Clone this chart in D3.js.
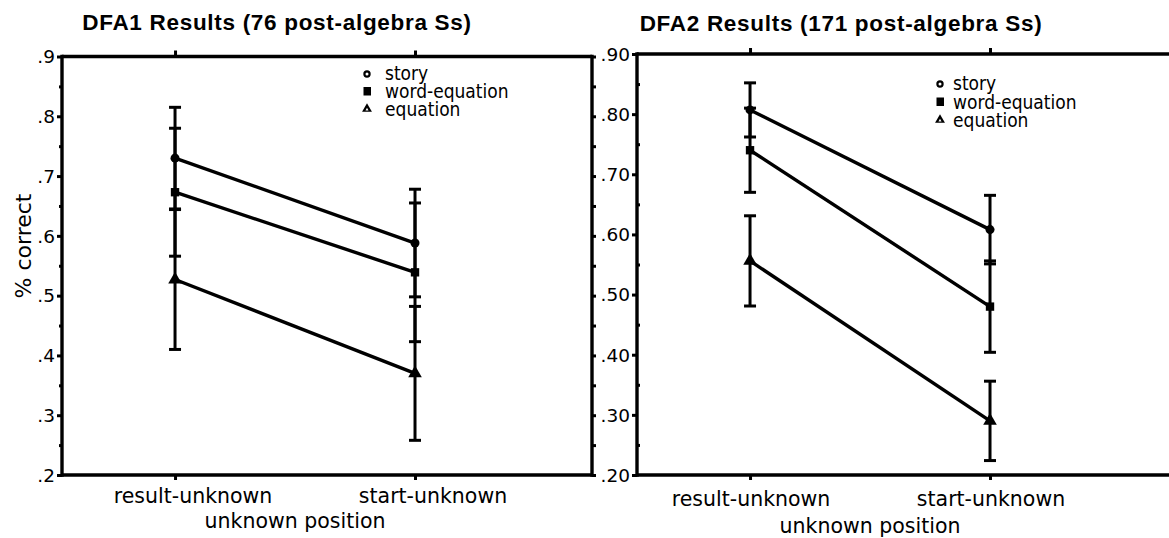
<!DOCTYPE html>
<html>
<head>
<meta charset="utf-8">
<script src="https://cdn.jsdelivr.net/npm/d3@7"></script>
<style>
  body { margin: 0; background: #fff; overflow: hidden; }
  svg { display: block; }
  text { fill: #000; }
</style>
</head>
<body>
<div id="chart"></div>
<script>
'use strict';

/***************************** chart data ********************************/

var categories = ["result-unknown", "start-unknown"];
var seriesNames = ["story", "word-equation", "equation"];

// DFA1 (76 post-algebra Ss)
var dfa1Story = [0.730, 0.588];
var dfa1StoryErr = [0.085, 0.090];
var dfa1WordEq = [0.673, 0.539];
var dfa1WordEqErr = [0.107, 0.116];
var dfa1Equation = [0.527, 0.370];
var dfa1EquationErr = [0.117, 0.112];

// DFA2 (171 post-algebra Ss)
var dfa2Story = [0.807, 0.608];
var dfa2StoryErr = [0.045, 0.057];
var dfa2WordEq = [0.740, 0.480];
var dfa2WordEqErr = [0.070, 0.076];
var dfa2Equation = [0.556, 0.290];
var dfa2EquationErr = [0.075, 0.066];

var majorTicks = [0.2, 0.3, 0.4, 0.5, 0.6, 0.7, 0.8, 0.9];
var minorTicks = [0.25, 0.35, 0.45, 0.55, 0.65, 0.75, 0.85];
var leftTickLabels = [".2", ".3", ".4", ".5", ".6", ".7", ".8", ".9"];
var rightTickLabels = [".20", ".30", ".40", ".50", ".60", ".70", ".80", ".90"];

/***************************** svg setup *********************************/

var width = 1169;
var height = 538;
var font = "'DejaVu Sans', Verdana, sans-serif";
var condFont = "'DejaVu Sans Condensed', 'DejaVu Sans', sans-serif";

var svg = d3.select("#chart").append("svg")
	.attr("width", width)
	.attr("height", height);

var markerShapes = [d3.symbolCircle, d3.symbolSquare, d3.symbolTriangle];
var markerSizes = [64, 70, 80];

function drawPanel(opts) {

	var x = d3.scaleLinear().domain([-0.471, 1.7375]).range([opts.left, opts.right]);
	var y = d3.scaleLinear().domain([0.2, 0.9]).range([opts.bottom, opts.top]);

	var g = svg.append("g").attr("class", "panel");

	/* frame */
	var frame = g.append("g").attr("stroke", "#000").attr("stroke-width", 3.4).attr("fill", "none");
	frame.append("line").attr("x1", opts.left).attr("x2", opts.frameRight).attr("y1", opts.top).attr("y2", opts.top);
	frame.append("line").attr("x1", opts.left).attr("x2", opts.frameRight).attr("y1", opts.bottom).attr("y2", opts.bottom);
	frame.append("line").attr("x1", opts.left).attr("x2", opts.left).attr("y1", opts.top - 1.7).attr("y2", opts.bottom + 1.7);
	if (opts.drawRight) {
		frame.append("line").attr("x1", opts.right).attr("x2", opts.right).attr("y1", opts.top - 1.7).attr("y2", opts.bottom + 1.7);
	}

	/* y axis : major ticks outside, minor ticks */
	var yMajor = g.append("g")
		.attr("transform", "translate(" + opts.left + ",0)")
		.call(d3.axisLeft(y).tickValues(majorTicks).tickSize(5).tickPadding(2)
			.tickFormat(function(d, i) { return opts.tickLabels[i]; }));
	yMajor.select(".domain").remove();
	yMajor.selectAll("line").attr("stroke-width", 3);
	yMajor.selectAll("text").attr("font-family", font).attr("font-size", 18.5).attr("dy", "0.34em");

	var yMinor = g.append("g")
		.attr("transform", "translate(" + opts.left + ",0)")
		.call((opts.minorInside ? d3.axisRight(y) : d3.axisLeft(y)).tickValues(minorTicks).tickSize(3).tickFormat(""));
	yMinor.select(".domain").remove();
	yMinor.selectAll("line").attr("stroke-width", 3);

	if (opts.drawRight) {
		var yRight = g.append("g")
			.attr("transform", "translate(" + opts.right + ",0)")
			.call(d3.axisRight(y).tickValues(majorTicks.concat(minorTicks)).tickSize(4).tickFormat(""));
		yRight.select(".domain").remove();
		yRight.selectAll("line").attr("stroke-width", 3);
	}

	/* x ticks top and bottom */
	var xIdx = d3.range(categories.length);
	var xBottom = g.append("g")
		.attr("transform", "translate(0," + opts.bottom + ")")
		.call(d3.axisBottom(x).tickValues(xIdx).tickSize(5).tickFormat(""));
	xBottom.select(".domain").remove();
	xBottom.selectAll("line").attr("stroke-width", 3);

	var xTop = g.append("g")
		.attr("transform", "translate(0," + opts.top + ")")
		.call(d3.axisTop(x).tickValues(xIdx).tickSize(6).tickFormat(""));
	xTop.select(".domain").remove();
	xTop.selectAll("line").attr("stroke-width", 3);

	g.selectAll(".catLabel")
		.data(categories)
		.enter().append("text")
		.attr("class", "catLabel")
		.attr("x", function(d, i) { return x(i) + opts.labelShift; })
		.attr("y", opts.catBaseline)
		.attr("text-anchor", "middle")
		.attr("font-family", font)
		.attr("font-size", 20.5)
		.text(function(d) { return d; });

	g.append("text")
		.attr("x", x(0.5))
		.attr("y", opts.axisTitleBaseline)
		.attr("text-anchor", "middle")
		.attr("font-family", font)
		.attr("font-size", 20.5)
		.text("unknown position");

	/* title */
	g.append("text")
		.attr("x", opts.titleX)
		.attr("y", opts.titleY)
		.attr("text-anchor", "middle")
		.attr("font-family", "'Liberation Sans', Arial, sans-serif")
		.attr("font-weight", "bold")
		.attr("font-size", 22.5)
		.attr("letter-spacing", 0.7)
		.text(opts.title);

	/* series : error bars, lines, markers */
	var line = d3.line()
		.x(function(d, i) { return x(i); })
		.y(function(d) { return y(d); });

	opts.series.forEach(function(s, k) {
		var bars = g.append("g").attr("stroke", "#000").attr("stroke-width", 3);
		s.values.forEach(function(v, i) {
			var lo = v - s.err[i];
			var hi = v + s.err[i];
			bars.append("line").attr("x1", x(i)).attr("x2", x(i)).attr("y1", y(lo)).attr("y2", y(hi));
			bars.append("line").attr("x1", x(i) - 6).attr("x2", x(i) + 6).attr("y1", y(lo)).attr("y2", y(lo));
			bars.append("line").attr("x1", x(i) - 6).attr("x2", x(i) + 6).attr("y1", y(hi)).attr("y2", y(hi));
		});
	});

	opts.series.forEach(function(s, k) {
		g.append("path")
			.datum(s.values)
			.attr("d", line)
			.attr("fill", "none")
			.attr("stroke", "#000")
			.attr("stroke-width", 3.4);

		g.selectAll(".mk" + k)
			.data(s.values)
			.enter().append("path")
			.attr("class", "mk" + k)
			.attr("transform", function(d, i) { return "translate(" + x(i) + "," + y(d) + ")"; })
			.attr("d", d3.symbol().type(markerShapes[k]).size(markerSizes[k]))
			.attr("fill", "#000");
	});

	/* legend */
	var legend = g.append("g").attr("class", "legend");
	seriesNames.forEach(function(name, k) {
		var by = opts.legendY + k * opts.legendStep;
		if (k === 0) {
			legend.append("circle")
				.attr("cx", opts.legendMarkX).attr("cy", by - 6).attr("r", 2.6)
				.attr("fill", "#fff").attr("stroke", "#000").attr("stroke-width", 2.2);
		}
		else if (k === 1) {
			legend.append("rect")
				.attr("x", opts.legendMarkX - 3.5).attr("y", by - 11).attr("width", 7.5).attr("height", 8.5)
				.attr("fill", "#000");
		}
		else {
			legend.append("path")
				.attr("transform", "translate(" + opts.legendMarkX + "," + (by - 7) + ")")
				.attr("d", d3.symbol().type(d3.symbolTriangle).size(42))
				.attr("fill", "#000");
			legend.append("path")
				.attr("transform", "translate(" + opts.legendMarkX + "," + (by - 6.5) + ")")
				.attr("d", d3.symbol().type(d3.symbolTriangle).size(4))
				.attr("fill", "#fff");
		}
		legend.append("text")
			.attr("x", opts.legendTextX)
			.attr("y", by)
			.attr("font-family", condFont)
			.attr("font-size", 19)
			.text(name);
	});
}

/***************************** panels ************************************/

drawPanel({
	left: 62, right: 592, frameRight: 592, drawRight: true, minorInside: false,
	top: 56.5, bottom: 475,
	tickLabels: leftTickLabels,
	labelShift: 18, catBaseline: 503, axisTitleBaseline: 528,
	title: "DFA1 Results (76 post-algebra Ss)", titleX: 277, titleY: 30,
	legendMarkX: 367, legendTextX: 385, legendY: 80, legendStep: 18,
	series: [
		{ values: dfa1Story, err: dfa1StoryErr },
		{ values: dfa1WordEq, err: dfa1WordEqErr },
		{ values: dfa1Equation, err: dfa1EquationErr }
	]
});

drawPanel({
	left: 637, right: 1167, frameRight: 1175, drawRight: false, minorInside: true,
	top: 54, bottom: 475,
	tickLabels: rightTickLabels,
	labelShift: 1, catBaseline: 506, axisTitleBaseline: 533,
	title: "DFA2 Results (171 post-algebra Ss)", titleX: 841, titleY: 31,
	legendMarkX: 940, legendTextX: 953, legendY: 90, legendStep: 18.5,
	series: [
		{ values: dfa2Story, err: dfa2StoryErr },
		{ values: dfa2WordEq, err: dfa2WordEqErr },
		{ values: dfa2Equation, err: dfa2EquationErr }
	]
});

/* y axis title (shared, left) */
svg.append("text")
	.attr("transform", "translate(31,246) rotate(-90)")
	.attr("text-anchor", "middle")
	.attr("font-family", font)
	.attr("font-size", 22)
	.text("% correct");
</script>
</body>
</html>
